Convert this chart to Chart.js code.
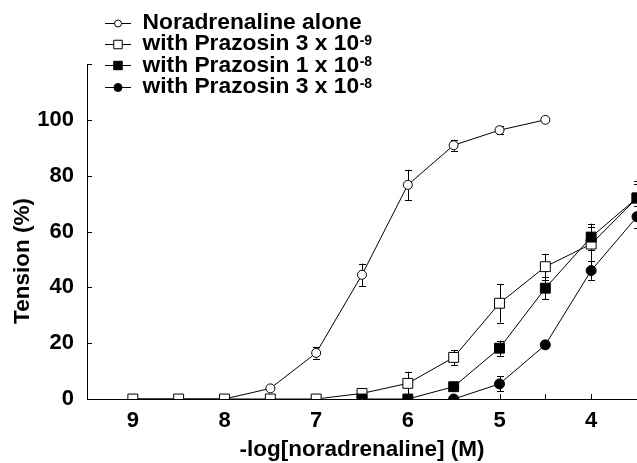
<!DOCTYPE html>
<html><head><meta charset="utf-8">
<script src="https://cdn.jsdelivr.net/npm/chart.js@4"></script>
<style>html,body{margin:0;padding:0;background:#fff;overflow:hidden}</style>
</head><body>
<canvas id="c" width="637" height="463"></canvas>
<script>
// -log[noradrenaline] (M)
const doses = [9, 8.5, 8, 7.5, 7, 6.5, 6, 5.5, 5, 4.5, 4, 3.5];
// Tension (%) per series (null = no point)
const aloneVals    = [0, 0, 0, 3.8, 16.5, 44.5, 76.7, 90.9, 96.3, 100, null, null];
const aloneErr     = [0, 0, 0, 0, 2, 4, 5.4, 2, 1.5, 0, null, null];
const praz3e9Vals  = [0, 0, 0, 0, 0, 2, 5.6, 14.9, 34.3, 47.4, 55.5, 72];
const praz3e9Err   = [0, 0, 0, 0, 0, 0, 4.2, 2.7, 6.9, 4.6, 6, 5];
const praz1e8Vals  = [null, null, null, null, null, 0, 0, 4.4, 18.2, 39.7, 58, 72];
const praz1e8Err   = [null, null, null, null, null, 0, 0, 0.8, 2.7, 4, 4.8, 6];
const praz3e8Vals  = [null, null, null, null, null, null, null, 0, 5.4, 19.4, 46, 65.3];
const praz3e8Err   = [null, null, null, null, null, null, null, 0, 2.7, 0.6, 3.3, 4];

const legendLabels = ['Noradrenaline alone', 'with Prazosin 3 x 10', 'with Prazosin 1 x 10', 'with Prazosin 3 x 10'];
const legendExps   = ['', '-9', '-8', '-8'];
const xTickLabels  = [9, 8, 7, 6, 5, 4];
const yTickLabels  = [0, 20, 40, 60, 80, 100];
const xTitle = '-log[noradrenaline] (M)';
const yTitle = 'Tension (%)';

const FONT = '"Liberation Sans", Arial, sans-serif';

function pts(vals) {
  const out = [];
  doses.forEach((d, i) => { if (vals[i] !== null) out.push({x: d, y: vals[i]}); });
  return out;
}
function errs(vals, e) {
  const out = [];
  doses.forEach((d, i) => { if (vals[i] !== null) out.push(e[i]); });
  return out;
}

const datasets = [
  {label: legendLabels[0], data: pts(aloneVals), errors: errs(aloneVals, aloneErr),
   pointStyle: 'circle', pointRadius: 4.5, backgroundColor: '#fff', order: 3, legendRadius: 3.5},
  {label: legendLabels[1], data: pts(praz3e9Vals), errors: errs(praz3e9Vals, praz3e9Err),
   pointStyle: 'rect', pointRadius: 7, backgroundColor: '#fff', order: 2, legendRadius: 6},
  {label: legendLabels[2], data: pts(praz1e8Vals), errors: errs(praz1e8Vals, praz1e8Err),
   pointStyle: 'rect', pointRadius: 7, backgroundColor: '#000', order: 1, legendRadius: 6},
  {label: legendLabels[3], data: pts(praz3e8Vals), errors: errs(praz3e8Vals, praz3e8Err),
   pointStyle: 'circle', pointRadius: 5, backgroundColor: '#000', order: 0, legendRadius: 4}
].map(d => Object.assign({
  borderColor: '#000', borderWidth: 1, pointBorderColor: '#000', pointBorderWidth: 1,
  pointBackgroundColor: d.backgroundColor, tension: 0, fill: false, pointHoverRadius: d.pointRadius
}, d));

const errorBars = {
  id: 'errorBars',
  beforeDatasetsDraw(chart) {
    const ctx = chart.ctx, xs = chart.scales.x, ys = chart.scales.y;
    ctx.save();
    ctx.strokeStyle = '#000'; ctx.lineWidth = 1;
    chart.data.datasets.forEach(ds => {
      ds.data.forEach((p, i) => {
        const e = ds.errors[i];
        if (!e) return;
        const x = Math.round(xs.getPixelForValue(p.x)) + 0.5;
        const y1 = ys.getPixelForValue(p.y + e), y2 = ys.getPixelForValue(p.y - e);
        ctx.beginPath();
        ctx.moveTo(x, y1); ctx.lineTo(x, y2);
        ctx.moveTo(x - 3.5, Math.round(y1) + 0.5); ctx.lineTo(x + 3.5, Math.round(y1) + 0.5);
        ctx.moveTo(x - 3.5, Math.round(y2) + 0.5); ctx.lineTo(x + 3.5, Math.round(y2) + 0.5);
        ctx.stroke();
      });
    });
    // inward tick marks
    const area = chart.chartArea;
    ctx.beginPath();
    xs.ticks.forEach(t => {
      const x = Math.round(xs.getPixelForValue(t.value)) + 0.5;
      ctx.moveTo(x, area.bottom); ctx.lineTo(x, area.bottom - 5);
    });
    ys.ticks.forEach(t => {
      const y = Math.round(ys.getPixelForValue(t.value)) + 0.5;
      ctx.moveTo(area.left, y); ctx.lineTo(area.left + 5, y);
    });
    ctx.stroke();
    ctx.restore();
  }
};

const customText = {
  id: 'customText',
  afterDraw(chart) {
    const ctx = chart.ctx;
    ctx.save();
    // y-axis title
    ctx.fillStyle = '#000';
    ctx.font = 'bold 22.5px ' + FONT;
    ctx.textAlign = 'center'; ctx.textBaseline = 'middle';
    ctx.translate(22.5, 261);
    ctx.rotate(-Math.PI / 2);
    ctx.fillText(yTitle, 0, 0);
    ctx.restore();

    // legend
    ctx.save();
    chart.data.datasets.forEach((ds, i) => {
      const y = 22.7 + i * 21.3;
      ctx.strokeStyle = '#000'; ctx.lineWidth = 1;
      ctx.beginPath(); ctx.moveTo(105, Math.round(y) + 0.5); ctx.lineTo(131, Math.round(y) + 0.5); ctx.stroke();
      ctx.fillStyle = ds.backgroundColor; ctx.strokeStyle = '#000';
      Chart.helpers.drawPoint(ctx, {pointStyle: ds.pointStyle, radius: ds.legendRadius, borderWidth: 1, rotation: 0}, 118, Math.round(y) + 0.5);
      ctx.fillStyle = '#000';
      ctx.font = 'bold 22.8px ' + FONT;
      ctx.textAlign = 'left'; ctx.textBaseline = 'middle';
      ctx.fillText(legendLabels[i], 142.5, y);
      if (legendExps[i]) {
        const w = ctx.measureText(legendLabels[i]).width;
        ctx.font = 'bold 14px ' + FONT;
        ctx.textBaseline = 'alphabetic';
        ctx.fillText(legendExps[i], 142.5 + w + 0.5, y + 1);
      }
    });
    ctx.restore();
  }
};

new Chart(document.getElementById('c'), {
  type: 'line',
  data: {datasets},
  options: {
    responsive: false, animation: false, devicePixelRatio: 1,
    layout: {autoPadding: false, padding: {top: 64, right: 0, left: 0, bottom: 0}},
    plugins: {legend: {display: false}, tooltip: {enabled: false}},
    scales: {
      x: {
        type: 'linear', reverse: true, min: 3.5, max: 9.5,
        afterFit(scale) { scale.height = 64; scale.paddingLeft = 0; scale.paddingRight = 0; },
        grid: {drawOnChartArea: false, drawTicks: false},
        border: {display: true, color: '#000', width: 1},
        ticks: {
          stepSize: 0.5, autoSkip: false, maxRotation: 0, padding: 9, color: '#000',
          font: {family: FONT, size: 22, weight: 'bold'},
          callback: v => xTickLabels.includes(v) ? String(v) : ''
        },
        title: {display: true, text: xTitle, color: '#000', padding: {top: 0, bottom: 0},
          font: {family: FONT, size: 22.5, weight: 'bold'}}
      },
      y: {
        type: 'linear', min: 0, max: 120,
        afterFit(scale) { scale.width = 87; },
        grid: {drawOnChartArea: false, drawTicks: false},
        border: {display: true, color: '#000', width: 1},
        ticks: {
          stepSize: 20, padding: 13, color: '#000',
          font: {family: FONT, size: 22, weight: 'bold'},
          callback: v => yTickLabels.includes(v) ? String(v) : ''
        }
      }
    }
  },
  plugins: [errorBars, customText]
});
</script>
</body></html>
